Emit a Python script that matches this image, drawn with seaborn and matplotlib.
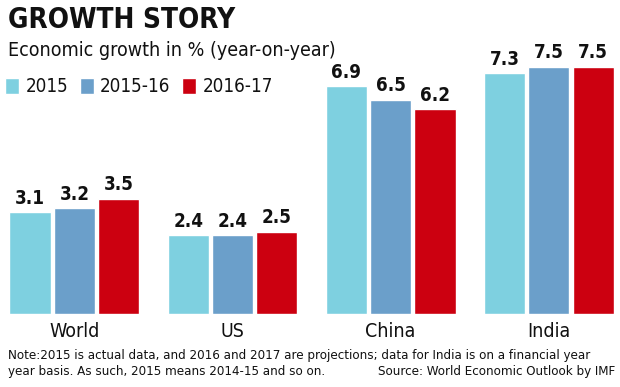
import matplotlib
matplotlib.use("Agg")
import matplotlib.pyplot as plt
import seaborn as sns
import pandas as pd

# data
regions = ["World", "US", "China", "India"]
periods = ["2015", "2015-16", "2016-17"]
growth_2015 = [3.1, 2.4, 6.9, 7.3]
growth_2016 = [3.2, 2.4, 6.5, 7.5]
growth_2017 = [3.5, 2.5, 6.2, 7.5]
colors = ["#7ed0e0", "#6b9fca", "#cc0010"]

df = pd.DataFrame({
    "region": regions * 3,
    "period": [periods[0]] * 4 + [periods[1]] * 4 + [periods[2]] * 4,
    "growth": growth_2015 + growth_2016 + growth_2017,
})

sns.set_style("white")
plt.rcParams["font.family"] = ["DejaVu Sans"]
plt.rcParams["font.stretch"] = "condensed"
ink = "#111111"

fig = plt.figure(figsize=(6.2, 3.87), dpi=100)
ax = fig.add_axes([0, 1 - 314 / 387, 1, (314 - 60) / 387])

sns.barplot(data=df, x="region", y="growth", hue="period", palette=colors,
            width=0.84, gap=0.07, saturation=1, ax=ax)

for cont in ax.containers:
    ax.bar_label(cont, fmt="%.1f", padding=3, fontsize=13.5, fontweight="bold",
                 color=ink)

ax.set_xlim(-0.47, 3.45)
ax.set_ylim(0, 7.7)
ax.set_xlabel("")
ax.set_ylabel("")
ax.set_yticks([])
ax.tick_params(axis="x", length=0, labelsize=14, pad=6, labelcolor=ink)
for s in ax.spines.values():
    s.set_visible(False)

sns.move_legend(ax, loc="center left", bbox_to_anchor=(0.008, 1 - 87 / 387),
                bbox_transform=fig.transFigure, ncol=3, frameon=False,
                fontsize=13.5, handlelength=0.75, handleheight=0.9,
                handletextpad=0.35, columnspacing=0.6, title=None,
                borderaxespad=0, borderpad=0, labelcolor=ink)

fig.text(0.013, 0.985, "GROWTH STORY", fontsize=20, fontweight="bold",
         va="top", ha="left", color=ink)
fig.text(0.013, 0.895, "Economic growth in % (year-on-year)", fontsize=14,
         va="top", ha="left", color=ink)
fig.text(0.013, 1 - 355 / 387, "Note:2015 is actual data, and 2016 and 2017 are projections; "
         "data for India is on a financial year", fontsize=9.5, va="center",
         ha="left", color=ink)
fig.text(0.013, 1 - 371 / 387, "year basis. As such, 2015 means 2014-15 and so on.",
         fontsize=9.5, va="center", ha="left", color=ink)
fig.text(0.992, 1 - 371 / 387, "Source: World Economic Outlook by IMF", fontsize=9.5,
         va="center", ha="right", color=ink)

fig.savefig("out.png", dpi=100)
